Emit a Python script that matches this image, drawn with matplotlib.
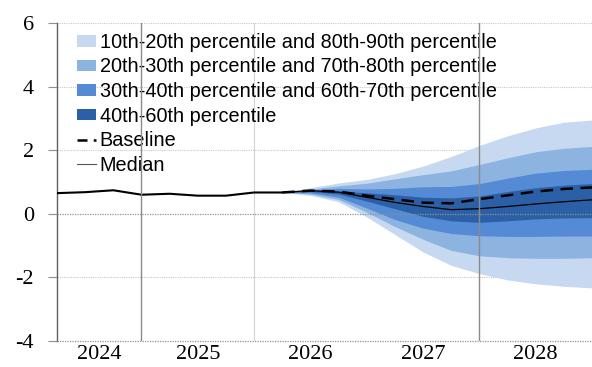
import matplotlib
matplotlib.use("Agg")
import matplotlib.pyplot as plt
from matplotlib.patches import Patch
from matplotlib.lines import Line2D

# Quarterly index: 0 = 2024Q2 ... 19 = 2029Q1
hist_q = list(range(0, 9))
hist_vals = [0.65, 0.68, 0.74, 0.60, 0.63, 0.57, 0.57, 0.67, 0.67]

fc_q = list(range(8, 20))
p10 = [0.67, 0.58, 0.38, -0.10, -0.65, -1.20, -1.62, -1.88, -2.08, -2.20, -2.28, -2.33]
p20 = [0.67, 0.62, 0.45, 0.05, -0.40, -0.80, -1.15, -1.32, -1.38, -1.40, -1.40, -1.38]
p30 = [0.67, 0.66, 0.52, 0.18, -0.18, -0.45, -0.62, -0.69, -0.71, -0.71, -0.70, -0.70]
p40 = [0.67, 0.70, 0.62, 0.40, 0.16, -0.08, -0.22, -0.27, -0.22, -0.16, -0.13, -0.12]
p60 = [0.67, 0.73, 0.72, 0.66, 0.60, 0.52, 0.50, 0.56, 0.70, 0.82, 0.90, 0.95]
p70 = [0.67, 0.75, 0.80, 0.78, 0.80, 0.85, 0.86, 0.95, 1.12, 1.28, 1.36, 1.40]
p80 = [0.67, 0.78, 0.88, 0.96, 1.10, 1.23, 1.35, 1.55, 1.76, 1.95, 2.06, 2.12]
p90 = [0.67, 0.82, 0.97, 1.08, 1.26, 1.50, 1.80, 2.15, 2.45, 2.70, 2.88, 2.95]
baseline = [0.67, 0.73, 0.70, 0.57, 0.46, 0.35, 0.33, 0.46, 0.58, 0.70, 0.78, 0.83]
median = [0.67, 0.73, 0.68, 0.52, 0.36, 0.23, 0.13, 0.16, 0.23, 0.31, 0.38, 0.44]

years = ["2024", "2025", "2026", "2027", "2028"]
year_pos = [1.5, 5, 9, 13, 17]
yticks = [-4, -2, 0, 2, 4, 6]

band_labels = [
    "10th-20th percentile and 80th-90th percentile",
    "20th-30th percentile and 70th-80th percentile",
    "30th-40th percentile and 60th-70th percentile",
    "40th-60th percentile",
]
band_colors = ["#c6d9f0", "#8db3e1", "#548bd4", "#2c60a6"]

fig = plt.figure(figsize=(5.92, 3.67), dpi=100)
ax = fig.add_axes([57 / 592, 1 - 341 / 367, 535 / 592, 318 / 367])

ax.fill_between(fc_q, p10, p90, color=band_colors[0], lw=0, zorder=2)
ax.fill_between(fc_q, p20, p80, color=band_colors[1], lw=0, zorder=3)
ax.fill_between(fc_q, p30, p70, color=band_colors[2], lw=0, zorder=4)
ax.fill_between(fc_q, p40, p60, color=band_colors[3], lw=0, zorder=5)

ax.plot(hist_q, hist_vals, color="black", lw=1.5, zorder=7)
ax.plot(fc_q, baseline, color="black", lw=1.8, dashes=(5, 3), zorder=7)
ax.plot(fc_q, median, color="black", lw=0.9, zorder=7)

# grid and separators
for y in [-2, 2, 4, 6]:
    ax.axhline(y, color="#c8c8c8", lw=0.8, ls=(0, (1, 1)), zorder=1)
ax.axhline(0, color="#909090", lw=0.9, ls=(0, (1, 1)), zorder=6)
ax.axhline(-4, color="#909090", lw=0.9, ls=(0, (1, 1)), zorder=6, clip_on=False)
ax.axvline(3, color="#8a8a8a", lw=1.0, zorder=8)
ax.axvline(7, color="#d4d4d4", lw=0.8, zorder=1)
ax.axvline(15, color="#8a8a8a", lw=1.0, zorder=8)

ax.set_xlim(0, 19)
ax.set_ylim(-4, 6)
ax.set_yticks(yticks)
ax.set_yticklabels([str(v) for v in yticks], family="Liberation Serif", fontsize=16)
ax.set_xticks(year_pos)
ax.set_xticklabels(years, family="Liberation Serif", fontsize=16)
ax.tick_params(axis="x", length=0, pad=3)
ax.tick_params(axis="y", length=6.5, width=0.8, color="#909090", pad=10)

for s in ["top", "right", "bottom"]:
    ax.spines[s].set_visible(False)
ax.spines["left"].set_color("#606060")
ax.spines["left"].set_linewidth(1.0)

handles = [Patch(facecolor=c, edgecolor="none") for c in band_colors]
handles.append(Line2D([], [], color="black", lw=1.8, dashes=(4, 2.5)))
handles.append(Line2D([], [], color="#555555", lw=0.8))
labels = band_labels + ["Baseline", "Median"]
ax.legend(handles, labels, loc="upper left", bbox_to_anchor=(0.018, 1.0),
          frameon=False, borderpad=0, handlelength=1.0, handleheight=0.5,
          handletextpad=0.17, labelspacing=0.28,
          prop={"family": "Liberation Sans", "size": 14.3})

fig.savefig("out.png", dpi=100)
